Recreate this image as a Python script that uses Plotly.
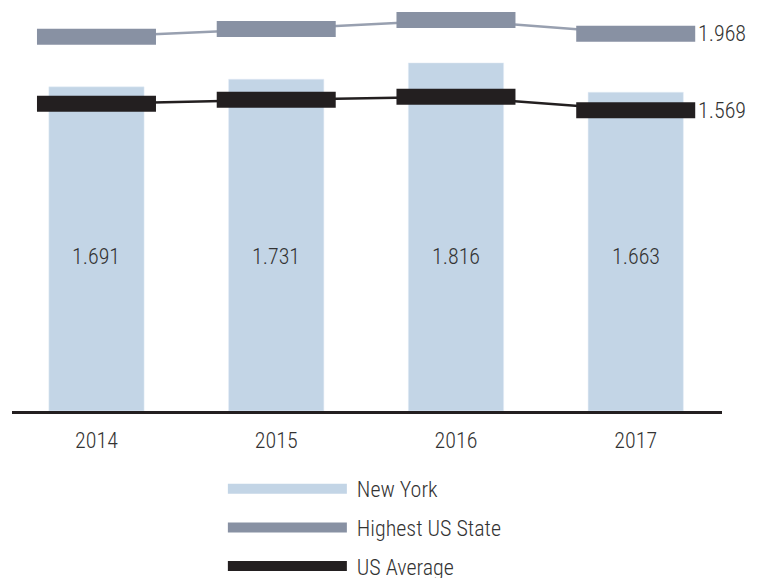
import plotly.graph_objects as go

years = ["2014", "2015", "2016", "2017"]
new_york = [1.691, 1.731, 1.816, 1.663]
highest_state = [1.952, 1.993, 2.040, 1.968]
us_average = [1.603, 1.623, 1.639, 1.569]

C_NY = "#c3d5e6"
C_HI = "#8891a3"
C_HI_LINE = "#98a0b0"
C_US = "#231f20"
FONT = "Roboto Condensed, Roboto, sans-serif"
TXT = "#333333"
FS = 22
FW = 300

fig = go.Figure()
fig.add_trace(go.Bar(x=years, y=new_york, marker_color=C_NY, width=0.53,
                     showlegend=False, hoverinfo="skip"))
fig.add_trace(go.Scatter(x=years, y=highest_state, mode="lines+markers",
                         line=dict(color=C_HI_LINE, width=2.5),
                         marker=dict(symbol="line-ew", size=85,
                                     line=dict(color=C_HI, width=16)),
                         showlegend=False))
fig.add_trace(go.Scatter(x=years, y=us_average, mode="lines+markers",
                         line=dict(color=C_US, width=2.5),
                         marker=dict(symbol="line-ew", size=85,
                                     line=dict(color=C_US, width=16)),
                         showlegend=False))

# legend-only entries
for name, col, grp in [("New York", C_NY, "a"), ("Highest US State", C_HI, "b"),
                       ("US Average", C_US, "c")]:
    fig.add_trace(go.Scatter(x=[None], y=[None], mode="lines", name=" " + name,
                             line=dict(color=col, width=16), legendgroup=grp))

# bar value labels (category index positions)
for i, v in enumerate(new_york):
    fig.add_annotation(x=i, y=0.806, text=f"{v:.3f}", showarrow=False,
                       font=dict(family=FONT, size=FS, color=TXT, weight=FW))

# end labels
last = len(years) - 1
for vals in (highest_state, us_average):
    fig.add_annotation(x=last, y=vals[-1], text=f"{vals[-1]:.3f}",
                       showarrow=False, xanchor="left", xshift=60,
                       font=dict(family=FONT, size=FS, color=TXT, weight=FW))

fig.update_layout(
    width=765, height=578,
    margin=dict(l=12, r=43, t=0, b=167, autoexpand=False),
    plot_bgcolor="white", paper_bgcolor="white",
    font=dict(family=FONT, size=FS, color=TXT, weight=FW),
    xaxis=dict(type="category", range=[-0.47, 3.48], showgrid=False,
               showline=True, linecolor=C_US, linewidth=3, ticks="",
               ticklabelstandoff=8,
               tickfont=dict(family=FONT, size=FS, color=TXT, weight=FW)),
    yaxis=dict(range=[0, 2.144], visible=False),
    legend=dict(orientation="v", x=0.297, xanchor="left", y=-0.1387, yanchor="top",
                itemwidth=119, tracegroupgap=7,
                font=dict(family=FONT, size=FS, color=TXT, weight=FW)),
)

fig.write_html("out.html")
